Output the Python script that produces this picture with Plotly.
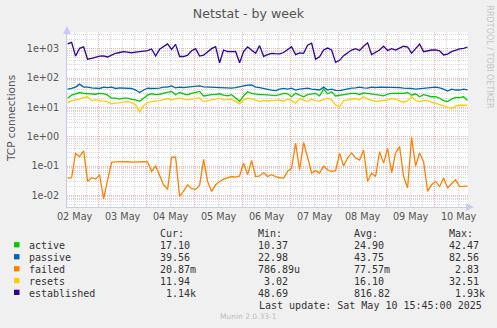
import pandas as pd
import plotly.graph_objects as go

# ---- data: 2-hour samples, 02 May 08:30 -> 10 May 16:30 ----
times = pd.date_range("2025-05-02 08:30", periods=101, freq="2h")

active = [20.5, 26, 29, 32, 30, 29, 29, 28, 30, 29,
          26, 20.5, 20.5, 19, 20.5, 20.5, 18.8, 18, 16, 20.5,
          26, 29, 27, 28, 30, 32, 35, 27, 32, 29,
          27, 30, 32, 35, 24.5, 26, 27, 27.5, 29, 26,
          24.5, 27, 20.5, 16, 24.5, 34, 30, 28, 27, 27,
          26, 24.5, 25, 27, 30, 29, 23, 30, 26, 23,
          27, 29, 30, 24.5, 42, 29, 34, 24.5, 26, 27.5,
          29, 30, 30, 27.5, 31, 30, 28, 27, 26, 24.5,
          28, 30, 30, 29, 30, 32, 26, 29, 23, 27,
          24.5, 23, 23, 20.5, 17, 15.7, 19, 22, 21.5, 23,
          17.10]

passive = [42, 44, 49, 62, 49, 49, 46, 46, 44, 49,
           47, 49, 44, 46, 45, 44, 44, 39, 32, 39,
           45, 44, 44, 45, 49, 49, 54, 46, 49, 47,
           49, 51, 54, 54, 50, 49, 49, 49, 47, 46,
           46, 45, 47, 51, 54, 57, 58, 49, 47, 45,
           43, 39, 37, 42, 44, 42, 45, 39, 42, 44,
           45, 42, 40, 39, 49, 39, 42, 38, 37, 40,
           42, 45, 46, 49, 46, 45, 49, 47, 49, 49,
           47, 49, 49, 47, 45, 45, 44, 42, 43, 45,
           45, 46, 49, 46, 42, 36, 42, 39, 39, 42,
           39.56]

failed = [0.039, 0.04, 0.27, 0.21, 0.33, 0.03, 0.04, 0.036, 0.05, 0.0076,
          0.034, 0.135, 0.138, 0.14, 0.138, 0.14, 0.137, 0.14, 0.138, 0.14,
          0.138, 0.066, 0.1, 0.05, 0.023, 0.016, 0.2, 0.2, 0.0093, 0.014,
          0.023, 0.017, 0.016, 0.022, 0.17, 0.03, 0.0137, 0.023, 0.030, 0.036,
          0.039, 0.044, 0.042, 0.046, 0.126, 0.051, 0.155, 0.044, 0.046, 0.06,
          0.044, 0.051, 0.044, 0.040, 0.039, 0.066, 0.085, 0.6, 0.075, 0.635,
          0.2, 0.058, 0.07, 0.058, 0.1, 0.075, 0.066, 0.07, 0.27, 0.1,
          0.19, 0.28, 0.19, 0.16, 0.35, 0.03, 0.058, 0.044, 0.31, 0.126,
          0.4, 0.058, 0.28, 0.46, 0.044, 0.018, 0.95, 0.1, 0.28, 0.14,
          0.0137, 0.023, 0.03, 0.02, 0.039, 0.018, 0.025, 0.034, 0.02, 0.02,
          0.02087]

resets = [14.5, 17, 18, 19, 21.5, 23, 17, 18, 17, 16.5,
          15.7, 13.2, 13.8, 13.8, 14.5, 15.7, 14.5, 12.2, 7, 11.5,
          14.5, 15.7, 16.5, 17, 18, 20, 18, 20, 21, 19,
          18, 19, 20, 21, 15.7, 17, 18, 19.5, 20.5, 18,
          19, 19, 16, 13.2, 18, 20.5, 19.5, 18, 16, 17,
          16.5, 17, 17.5, 18, 16, 19, 17, 13.8, 20, 18,
          15.7, 19, 17, 16.5, 18, 20.5, 18, 12.2, 10.3, 17,
          18, 19.5, 20, 18, 23, 19, 17, 16, 16.5, 17,
          18, 20, 19, 16.5, 15, 17, 23, 17, 16, 17,
          17, 15, 13.8, 13.2, 11.5, 10.3, 9.2, 11, 12, 11.8,
          11.94]

established = [1450, 1650, 560, 1030, 1150, 440, 470, 520, 560, 565,
               520, 600, 697, 740, 790, 760, 720, 760, 792, 820,
               860, 977, 560, 950, 1170, 1445, 950, 1400, 540, 540,
               600, 850, 1000, 560, 600, 800, 1000, 1170, 330, 900,
               800, 790, 800, 330, 800, 1150, 900, 700, 1270, 550,
               630, 690, 675, 665, 740, 900, 1160, 630, 720, 690,
               1320, 1530, 440, 530, 900, 1050, 900, 340, 400, 580,
               740, 900, 1000, 865, 1210, 1580, 630, 760, 900, 1210,
               865, 1000, 900, 1050, 1210, 1140, 700, 1000, 1420, 790,
               845, 900, 905, 845, 610, 655, 790, 900, 980, 1030,
               1140]

names = ["active", "passive", "failed", "resets", "established"]
colors = ["#00CC00", "#0066B3", "#FF8000", "#FFCC00", "#330099"]
values = [active, passive, failed, resets, established]

cur_txt = ["17.10", "39.56", "20.87m", "11.94", "1.14k"]
min_txt = ["10.37", "22.98", "786.89u", "3.02", "48.69"]
avg_txt = ["24.90", "43.75", "77.57m", "16.10", "816.82"]
max_txt = ["42.47", "82.56", "2.83", "32.51", "1.93k"]

y_tickvals = [1e-2, 1e-1, 1e0, 1e1, 1e2, 1e3]
y_ticktext = ["1e-02", "1e-01", "1e+00", "1e+01", "1e+02", "1e+03"]

# ---- geometry ----
W, H = 497, 328
ML, MR, MT, MB = 67, 29, 32, 121
PW, PH = W - ML - MR, H - MT - MB


def px(x):
    return (x - ML) / PW


def py(y):
    return (H - MB - y) / PH


MAJOR = "rgba(240,110,110,0.55)"
MINOR = "rgba(160,160,160,0.40)"
AXIS = "#C8CCF4"
TXT = "#555555"
MONO = "DejaVu Sans Mono"

fig = go.Figure()
for n, c, v in zip(names, colors, values):
    fig.add_trace(go.Scatter(x=times, y=v, mode="lines", name=n,
                             line=dict(color=c, width=1.3),
                             hoverinfo="skip", showlegend=False))

minor_y = [m * 10 ** e for e in range(-3, 4) for m in range(2, 10)]

fig.update_layout(
    width=W, height=H, autosize=False,
    margin=dict(l=ML, r=MR, t=MT, b=MB, pad=0),
    paper_bgcolor="#F0F0F0", plot_bgcolor="#FFFFFF",
    title=dict(text="Netstat - by week", x=0.5, xref="container", xanchor="center",
               y=1 - 13.3 / H, yref="container", yanchor="middle",
               font=dict(family="DejaVu Sans", size=12.6, color=TXT)),
    xaxis=dict(type="date", range=["2025-05-02 08:12", "2025-05-10 16:42"],
               tick0="2025-05-02", dtick=86400000, tickformat="%d %b",
               ticklabelmode="period", ticks="", showline=True, linecolor=AXIS,
               linewidth=1, showgrid=True, gridcolor=MAJOR, griddash="1px,1px",
               gridwidth=1, zeroline=False,
               minor=dict(dtick=6 * 3600 * 1000, tick0="2025-05-02", showgrid=True,
                          gridcolor=MINOR, griddash="1px,1px", gridwidth=1),
               tickfont=dict(family="DejaVu Sans", size=9.7, color=TXT),
               fixedrange=True),
    yaxis=dict(type="log", range=[-2.395, 3.568], tickmode="array",
               tickvals=y_tickvals, ticktext=y_ticktext, ticks="",
               showline=True, linecolor=AXIS, linewidth=1,
               showgrid=True, gridcolor=MAJOR, griddash="1px,1px", gridwidth=1,
               zeroline=False, ticklabelstandoff=5,
               minor=dict(tickmode="array", tickvals=minor_y, showgrid=True,
                          gridcolor=MINOR, griddash="1px,1px", gridwidth=1),
               tickfont=dict(family="DejaVu Sans", size=9.6, color=TXT),
               fixedrange=True),
)

ann = []
# axis arrows
ann.append(dict(x=0, y=py(26), xref="paper", yref="paper", text="", showarrow=True,
                ax=0, ay=7, arrowhead=2, arrowsize=1.6, arrowwidth=1, arrowcolor=AXIS))
ann.append(dict(x=px(474), y=0, xref="paper", yref="paper", text="", showarrow=True,
                ax=-8, ay=0, arrowhead=2, arrowsize=1.6, arrowwidth=1, arrowcolor=AXIS))
# vertical axis title
ann.append(dict(x=px(10.5), y=py(118.5), xref="paper", yref="paper",
                text="TCP connections", textangle=-90, showarrow=False,
                xanchor="center", yanchor="middle",
                font=dict(family="DejaVu Sans", size=10.5, color=TXT)))
# side credit
ann.append(dict(x=px(489), y=py(56.5), xref="paper", yref="paper",
                text="RRDTOOL / TOBI OETIKER", textangle=90, showarrow=False,
                xanchor="center", yanchor="middle",
                font=dict(family="DejaVu Sans", size=8, color="#C4C4C4")))

# legend table
CW = 6.02
col_right = [188.3, 285.7, 381.7, 477.3]
headers = ["Cur:", "Min:", "Avg:", "Max:"]
row_y = [233.6, 245.6, 257.6, 269.6, 281.4, 293.2]
mono_font = dict(family=MONO, size=10, color="#333333")
for h, r in zip(headers, col_right):
    ann.append(dict(x=px(r - 5 * CW), y=py(row_y[0]), xref="paper", yref="paper",
                    text=h, showarrow=False, xanchor="left", yanchor="middle",
                    font=mono_font))
shapes = []
for k, n in enumerate(names):
    yc = row_y[k + 1]
    shapes.append(dict(type="rect", xref="paper", yref="paper",
                       x0=px(14), x1=px(19.5), y0=py(yc + 1.8), y1=py(yc - 3.5),
                       fillcolor=colors[k], line=dict(width=0)))
    ann.append(dict(x=px(26.5), y=py(yc), xref="paper", yref="paper", text=n,
                    showarrow=False, xanchor="left", yanchor="middle", font=mono_font))
    for col, r in zip([cur_txt, min_txt, avg_txt, max_txt], col_right):
        s = col[k]
        num = s.rstrip("kmu")
        pad = "\u00a0" * max(0, 5 - len(num))
        ann.append(dict(x=px(r - 5 * CW), y=py(yc), xref="paper", yref="paper",
                        text=pad + s, showarrow=False, xanchor="left",
                        yanchor="middle", font=mono_font))

ann.append(dict(x=px(483.5), y=py(305.8), xref="paper", yref="paper",
                text="Last update: Sat May 10 15:45:00 2025", showarrow=False,
                xanchor="right", yanchor="middle", font=mono_font))
ann.append(dict(x=px(248), y=py(316.8), xref="paper", yref="paper",
                text="Munin 2.0.33-1", showarrow=False, xanchor="center",
                yanchor="middle", font=dict(family="DejaVu Sans", size=7.5, color="#BBBBBB")))

fig.update_layout(annotations=ann, shapes=shapes)
fig.write_html("out.html")
